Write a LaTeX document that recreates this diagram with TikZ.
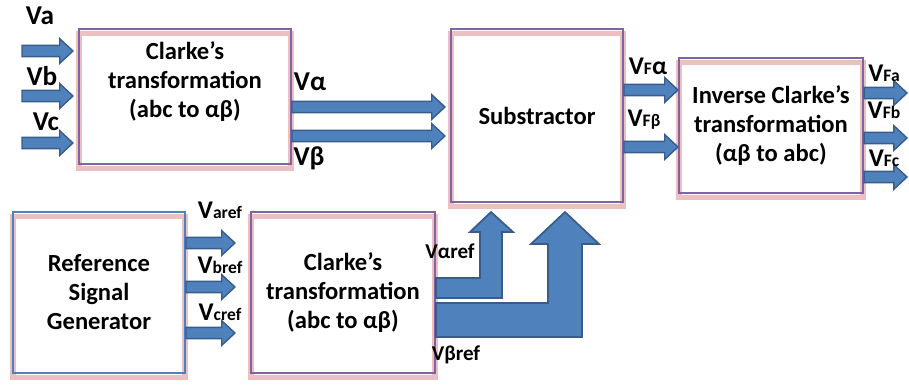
\documentclass[tikz,border=0pt]{standalone}
\usepackage{fontspec}
\setmainfont{Carlito}
\usetikzlibrary{calc, shadows}

\definecolor{boxpurple}{RGB}{128,100,162}
\definecolor{boxblue}{RGB}{79,129,189}
\definecolor{arrowfill}{RGB}{79,129,189}
\definecolor{arrowline}{RGB}{56,93,138}
\definecolor{shadowred}{RGB}{220,140,140}

\newcommand{\lbsub}[1]{{\fontsize{10}{10}\selectfont #1}}

\tikzset{
  block/.style={draw=boxpurple, line width=1.2pt, rectangle, align=center,
    font=\fontsize{14}{16.5}\selectfont\bfseries,
    copy shadow={shadow xshift=0pt, shadow yshift=-2.5pt, fill=none,
      draw=shadowred, line width=3pt, opacity=0.55}},
  btext/.style={align=center, font=\fontsize{14}{16.5}\selectfont\bfseries},
  lbl/.style={inner sep=0pt, font=\fontsize{15.5}{18}\selectfont\bfseries},
  sublbl/.style={inner sep=0pt, font=\fontsize{14.5}{16}\selectfont\bfseries},
  reflbl/.style={inner sep=0pt, font=\fontsize{12}{13}\selectfont\bfseries},
  hblock/.style={fill=arrowfill, draw=arrowline, line width=0.8pt,
    to path={let \p1=(\tikztostart), \p2=(\tikztotarget) in
      (\x1,\y1-3.2pt) -- (\x2-7.5pt,\y1-3.2pt) -- (\x2-7.5pt,\y1-7pt) -- (\x2,\y1)
      -- (\x2-7.5pt,\y1+7pt) -- (\x2-7.5pt,\y1+3.2pt) -- (\x1,\y1+3.2pt) -- cycle}},
  lblock/.style={fill=arrowfill, draw=arrowline, line width=1pt}
}

\begin{document}
\begin{tikzpicture}[x=0.02cm, y=-0.02cm]
  \useasboundingbox (0,0) rectangle (909,385);

  % blocks
  \node[block, minimum width=4.24cm, minimum height=2.7cm,
    label={[btext, yshift=0.29cm]center:{Clarke’s\\transformation\\(abc to αβ)}}] (clkA) at (185,96.5) {};
  \node[block, minimum width=3.44cm, minimum height=3.46cm] (sub) at (537,115.5) {Substractor};
  \node[block, minimum width=3.68cm, minimum height=2.7cm] (inv) at (771,125.5) {Inverse Clarke’s\\transformation\\(αβ to abc)};
  \node[block, draw=boxblue, minimum width=3.44cm, minimum height=3.22cm] (gen) at (99,292.5) {Reference\\Signal\\Generator};
  \node[block, minimum width=3.68cm, minimum height=3.22cm] (clkB) at (343,292.5) {Clarke’s\\transformation\\(abc to αβ)};

  % inputs
  \coordinate (inA) at (22,51);
  \coordinate (inB) at (22,96);
  \coordinate (inC) at (22,143);
  \draw[hblock] (inA) to ($(clkA.west |- inA)+(-5,0)$);
  \draw[hblock] (inB) to ($(clkA.west |- inB)+(-5,0)$);
  \draw[hblock] (inC) to ($(clkA.west |- inC)+(-5,0)$);
  \node[lbl] (la) at (40,16) {Va};
  \node[lbl] (lb) at (42,76) {Vb};
  \node[lbl] (lc) at (46,122) {Vc};

  % alpha beta
  \draw[hblock] (clkA.east |- 0,107) to ($(sub.west |- 0,107)+(-5,0)$);
  \draw[hblock] (clkA.east |- 0,136) to ($(sub.west |- 0,136)+(-5,0)$);
  \node[lbl] (lal) at (310,82) {Vα};
  \node[lbl] (lbe) at (309,158) {Vβ};

  % filtered alpha beta
  \draw[hblock] (sub.east |- 0,90) to (inv.west |- 0,90);
  \draw[hblock] (sub.east |- 0,147) to (inv.west |- 0,147);
  \node[sublbl] (lfal) at (648,66) {V\lbsub{F}α};
  \node[sublbl] (lfbe) at (644,120) {V\lbsub{Fβ}};

  % outputs
  \coordinate (outA) at (907,93);
  \coordinate (outB) at (907,138);
  \coordinate (outC) at (907,177);
  \draw[hblock] (inv.east |- outA) to (outA);
  \draw[hblock] (inv.east |- outB) to (outB);
  \draw[hblock] (inv.east |- outC) to (outC);
  \node[sublbl] (lfa) at (884,73) {V\lbsub{Fa}};
  \node[sublbl] (lfb) at (884,110) {V\lbsub{Fb}};
  \node[sublbl] (lfc) at (884,158) {V\lbsub{Fc}};

  % reference signals
  \draw[hblock] (gen.east |- 0,243) to ($(clkB.west |- 0,243)+(-15,0)$);
  \draw[hblock] (gen.east |- 0,287) to ($(clkB.west |- 0,287)+(-15,0)$);
  \draw[hblock] (gen.east |- 0,333) to ($(clkB.west |- 0,333)+(-15,0)$);
  \node[sublbl] (lar) at (220,210) {V\lbsub{aref}};
  \node[sublbl] (lbr) at (220,265) {V\lbsub{bref}};
  \node[sublbl] (lcr) at (220,312) {V\lbsub{cref}};

  % reference alpha beta into substractor
  \draw[lblock] (clkB.east |- 0,278) -- (480,278) -- (480,232) -- (470,232) -- ($(sub.south -| 491,0)+(0,9)$)
    -- (513,232) -- (502,232) -- (502,298) -- (clkB.east |- 0,298) -- cycle;
  \draw[lblock] (clkB.east |- 0,303) -- (548,303) -- (548,244) -- (531,244) -- ($(sub.south -| 565,0)+(0,9)$)
    -- (599,244) -- (582,244) -- (582,337) -- (clkB.east |- 0,337) -- cycle;
  \node[reflbl] (lalr) at (450,251) {Vαref};
  \node[reflbl] (lber) at (456,355) {Vβref};
\end{tikzpicture}
\end{document}
